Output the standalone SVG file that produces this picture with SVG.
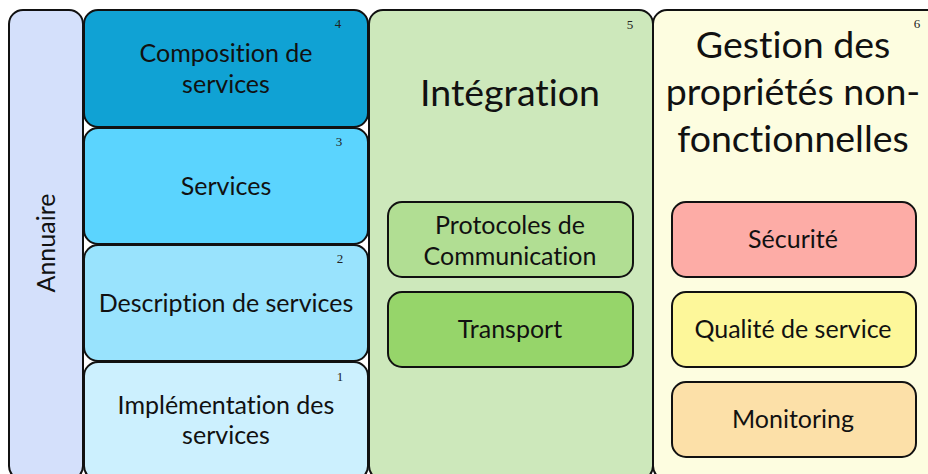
<svg xmlns="http://www.w3.org/2000/svg" width="928" height="474" viewBox="0 0 928 474">
<style>
.b{stroke:#111;stroke-width:2}
.t{font-family:Lato,"Open Sans",sans-serif;fill:#111;text-anchor:middle;font-variant-ligatures:none}
.m{font-size:25px}
.l{font-size:37.5px}
.n{font-family:"Liberation Serif",serif;font-size:13px;fill:#222;text-anchor:middle}
</style>
<rect width="928" height="474" fill="#fff"/>
<g id="annuaire">
<rect class="b" x="9" y="10" width="74" height="470" rx="14" fill="#d4e0fb"/>
<text class="t m" transform="translate(55,243) rotate(-90)">Annuaire</text>
</g>
<g id="composition">
<rect class="b" x="84" y="10" width="284" height="117" rx="14" fill="#10a2d4"/>
<text class="t m" x="226" y="62">Composition de</text>
<text class="t m" x="226" y="93">services</text>
<text class="n" x="338" y="28">4</text>
</g>
<g id="services">
<rect class="b" x="84" y="128" width="284" height="116" rx="14" fill="#5bd4fe"/>
<text class="t m" x="226" y="195">Services</text>
<text class="n" x="339" y="146">3</text>
</g>
<g id="description">
<rect class="b" x="84" y="245" width="284" height="116" rx="14" fill="#99e3fd"/>
<text class="t m" x="226" y="312">Description de services</text>
<text class="n" x="340" y="263">2</text>
</g>
<g id="implementation">
<rect class="b" x="84" y="362" width="284" height="118" rx="14" fill="#ccf0fe"/>
<text class="t m" x="226" y="414">Implémentation des</text>
<text class="t m" x="226" y="444">services</text>
<text class="n" x="340" y="381">1</text>
</g>
<g id="integration">
<rect class="b" x="369" y="10" width="284" height="470" rx="14" fill="#cde8bb"/>
<text class="t l" x="510" y="106">Intégration</text>
<text class="n" x="630" y="29">5</text>
</g>
<g id="protocoles">
<rect class="b" x="388" y="202" width="245" height="75" rx="14" fill="#b1de93"/>
<text class="t m" x="510" y="234">Protocoles de</text>
<text class="t m" x="510" y="265">Communication</text>
</g>
<g id="transport">
<rect class="b" x="388" y="292" width="245" height="75" rx="14" fill="#96d56a"/>
<text class="t m" x="510" y="338">Transport</text>
</g>
<g id="gestion">
<rect class="b" x="653" y="10" width="290" height="470" rx="14" fill="#fdfde0"/>
<text class="t l" x="793" y="58">Gestion des</text>
<text class="t l" x="793" y="105">propriétés non-</text>
<text class="t l" x="793" y="152">fonctionnelles</text>
<text class="n" x="917" y="28">6</text>
</g>
<g id="securite">
<rect class="b" x="672" y="202" width="244" height="75" rx="14" fill="#fdaca6"/>
<text class="t m" x="793" y="248">Sécurité</text>
</g>
<g id="qualite">
<rect class="b" x="672" y="292" width="244" height="75" rx="14" fill="#fdf79a"/>
<text class="t m" x="793" y="338">Qualité de service</text>
</g>
<g id="monitoring">
<rect class="b" x="672" y="382" width="244" height="75" rx="14" fill="#fce0a8"/>
<text class="t m" x="793" y="428">Monitoring</text>
</g>
<g id="connectors"></g>
</svg>
